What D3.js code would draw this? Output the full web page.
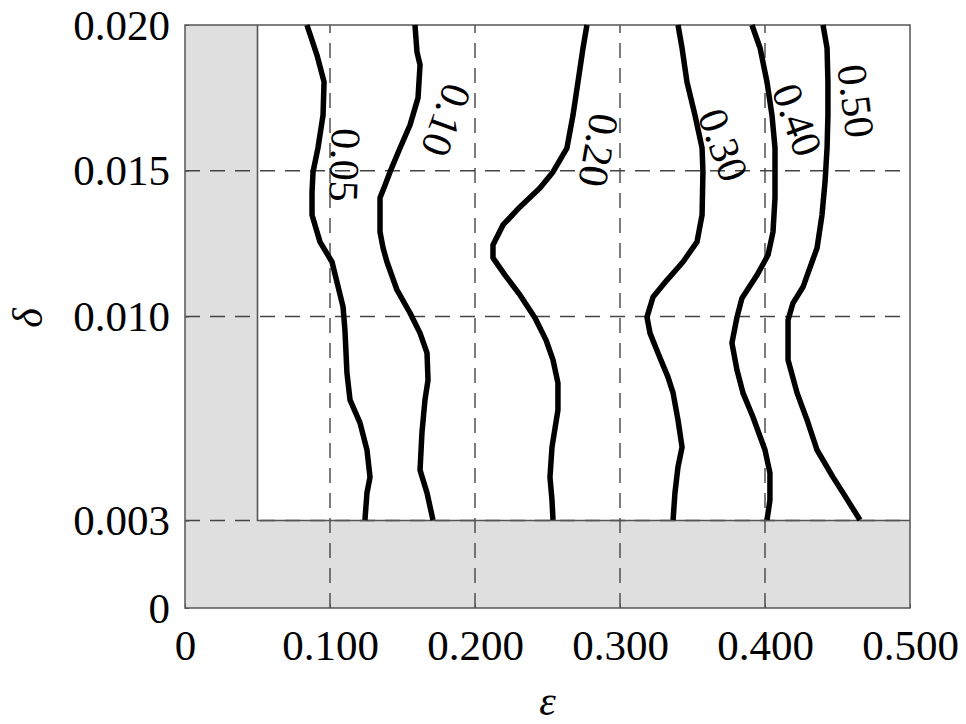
<!DOCTYPE html>
<html>
<head>
<meta charset="utf-8">
<script src="https://cdn.jsdelivr.net/npm/d3@7"></script>
<style>
  body { margin: 0; background: #fff; }
  text { font-family: "Liberation Serif", "Times New Roman", serif; fill: #000; }
</style>
</head>
<body>
<div id="chart"></div>
<script>
// axis ticks
const xTicks = [0, 0.1, 0.2, 0.3, 0.4, 0.5];
const xTickLabels = ["0", "0.100", "0.200", "0.300", "0.400", "0.500"];
const yTicks = [0, 0.003, 0.010, 0.015, 0.020];
const yTickLabels = ["0", "0.003", "0.010", "0.015", "0.020"];

// feasible region limits (shaded outside)
const epsMin = 0.05, deltaMin = 0.003;

// contour levels and lines, [epsilon, delta]
const levels = ["0.05", "0.10", "0.20", "0.30", "0.40", "0.50"];

const c05 = [[0.0841,0.0200],[0.0910,0.01897],[0.0959,0.01805],[0.0952,0.01691],[0.0917,0.01578],
  [0.0883,0.01496],[0.0876,0.01427],[0.0876,0.01348],[0.0931,0.01256],[0.1014,0.01187],
  [0.1090,0.01033],[0.1103,0.00954],[0.1117,0.00806],[0.1138,0.00714],[0.1207,0.00635],
  [0.1255,0.00542],[0.1276,0.00449],[0.1255,0.00395],[0.1241,0.00302]];

const c10 = [[0.1586,0.0200],[0.1600,0.01907],[0.1621,0.01863],[0.1607,0.01750],[0.1552,0.01657],
  [0.1483,0.01578],[0.1414,0.01496],[0.1372,0.01441],[0.1345,0.01407],[0.1345,0.01290],
  [0.1366,0.01235],[0.1393,0.01187],[0.1462,0.01091],[0.1552,0.01012],[0.1621,0.00943],
  [0.1669,0.00875],[0.1676,0.00782],[0.1655,0.00714],[0.1634,0.00600],[0.1621,0.00473],
  [0.1669,0.00395],[0.1710,0.00302]];

const c20 = [[0.2772,0.0200],[0.2745,0.01921],[0.2710,0.01804],[0.2676,0.01691],[0.2634,0.01578],
  [0.2538,0.01496],[0.2448,0.01441],[0.2310,0.01376],[0.2193,0.01314],[0.2124,0.01245],
  [0.2124,0.01201],[0.2207,0.01142],[0.2310,0.01074],[0.2414,0.00995],[0.2490,0.00919],
  [0.2538,0.00851],[0.2572,0.00772],[0.2572,0.00679],[0.2531,0.00552],[0.2517,0.00449],
  [0.2531,0.00370],[0.2538,0.00302]];

const c30 = [[0.3400,0.0200],[0.3428,0.01921],[0.3462,0.01804],[0.3517,0.01691],[0.3566,0.01578],
  [0.3572,0.01496],[0.3566,0.01348],[0.3531,0.01256],[0.3434,0.01187],[0.3324,0.01125],
  [0.3228,0.01067],[0.3186,0.00998],[0.3207,0.00943],[0.3262,0.00875],[0.3331,0.00792],
  [0.3366,0.00738],[0.3400,0.00645],[0.3428,0.00552],[0.3400,0.00484],[0.3379,0.00395],
  [0.3366,0.00302]];

const c40 = [[0.3910,0.0200],[0.3966,0.01921],[0.4014,0.01804],[0.4048,0.01691],[0.4069,0.01578],
  [0.4069,0.01407],[0.4055,0.01290],[0.4021,0.01211],[0.3945,0.01142],[0.3841,0.01063],
  [0.3807,0.00998],[0.3772,0.00909],[0.3807,0.00816],[0.3848,0.00738],[0.3917,0.00655],
  [0.4000,0.00542],[0.4034,0.00463],[0.4034,0.00370],[0.4014,0.00302]];

const c50 = [[0.4400,0.0200],[0.4428,0.01921],[0.4434,0.01804],[0.4434,0.01691],[0.4428,0.01578],
  [0.4414,0.01461],[0.4393,0.01348],[0.4359,0.01235],[0.4324,0.01187],[0.4262,0.01101],
  [0.4193,0.01046],[0.4159,0.00988],[0.4159,0.00851],[0.4221,0.00738],[0.4290,0.00645],
  [0.4359,0.00542],[0.4469,0.00449],[0.4538,0.00395],[0.4655,0.00302]];

const contours = [c05, c10, c20, c30, c40, c50];

// where each level label sits, [epsilon, delta]
const labelAt = [[0.1100,0.01520],[0.1800,0.01674],[0.2850,0.01571],[0.3710,0.01588],[0.4220,0.01674],[0.4625,0.01739]];
const labelAngle = [92, 110, 100, 70, 70, 83];

const margin = {top: 25, right: 56, bottom: 116, left: 185},
    width = 966 - margin.left - margin.right,
    height = 724 - margin.top - margin.bottom;

const x = d3.scaleLinear().domain([0, 0.5]).range([0, width]);
const y = d3.scaleLinear().domain([0, 0.02]).range([height, 0]);

const svg = d3.select("#chart").append("svg")
    .attr("width", 966)
    .attr("height", 724)
    .append("g")
    .attr("transform", "translate(" + margin.left + "," + margin.top + ")");

// shaded area and feasible white region
svg.append("rect")
    .attr("width", width).attr("height", height)
    .attr("fill", "#dfdfdf");
svg.append("rect")
    .attr("x", x(epsMin)).attr("y", y(0.02))
    .attr("width", x(0.5) - x(epsMin))
    .attr("height", y(deltaMin) - y(0.02))
    .attr("fill", "#fff");

// dashed grid
svg.selectAll(".vgrid").data(xTicks.slice(1, -1)).enter()
    .append("line")
    .attr("x1", d => x(d)).attr("x2", d => x(d))
    .attr("y1", y(0)).attr("y2", y(0.02))
    .attr("stroke", "#444").attr("stroke-width", 1.4)
    .attr("stroke-dasharray", "15,10");
svg.selectAll(".hgrid").data(yTicks.slice(1, -1)).enter()
    .append("line")
    .attr("x1", x(0)).attr("x2", x(0.5))
    .attr("y1", d => y(d)).attr("y2", d => y(d))
    .attr("stroke", "#444").attr("stroke-width", 1.4)
    .attr("stroke-dasharray", "15,10");

// boundary of the region
svg.append("path")
    .attr("d", "M" + x(epsMin) + "," + y(0.02) + "V" + y(deltaMin) + "H" + x(0.5))
    .attr("fill", "none").attr("stroke", "#555").attr("stroke-width", 1.6);

svg.append("rect")
    .attr("width", width).attr("height", height)
    .attr("fill", "none").attr("stroke", "#555").attr("stroke-width", 1.5);

// contour lines
const line = d3.line()
    .x(d => x(d[0]))
    .y(d => y(d[1]));

svg.selectAll(".contour").data(contours).enter()
    .append("path")
    .attr("d", line)
    .attr("fill", "none")
    .attr("stroke", "#000")
    .attr("stroke-width", 5.5)
    .attr("stroke-linejoin", "round");

svg.selectAll(".clabel").data(levels).enter()
    .append("text")
    .attr("transform", (d, i) => "translate(" + x(labelAt[i][0]) + "," + y(labelAt[i][1]) + ") rotate(" + labelAngle[i] + ")")
    .attr("text-anchor", "middle")
    .attr("dy", "0.33em")
    .style("font-size", "42px")
    .text(d => d);

// axes
const xAxis = svg.append("g")
    .attr("transform", "translate(0," + height + ")")
    .call(d3.axisBottom(x).tickValues(xTicks).tickFormat((d, i) => xTickLabels[i])
        .tickSizeInner(-4).tickSizeOuter(0));
xAxis.select(".domain").remove();
xAxis.selectAll("line").attr("stroke", "#555");
xAxis.selectAll("text")
    .attr("y", 52).attr("dy", 0)
    .style("font-size", "43px");

const yAxis = svg.append("g")
    .call(d3.axisLeft(y).tickValues(yTicks).tickFormat((d, i) => yTickLabels[i])
        .tickSizeInner(-4).tickSizeOuter(0));
yAxis.select(".domain").remove();
yAxis.selectAll("line").attr("stroke", "#555");
yAxis.selectAll("text")
    .attr("x", -15).attr("dy", "0.33em")
    .style("font-size", "43px");

// axis titles
svg.append("text")
    .attr("transform", "translate(" + (28 - margin.left) + "," + (318 - margin.top) + ") rotate(-90)")
    .attr("text-anchor", "middle")
    .attr("dy", "0.33em")
    .style("font-size", "42px")
    .style("font-style", "italic")
    .text("δ");

svg.append("text")
    .attr("x", width / 2)
    .attr("y", height + 107)
    .attr("text-anchor", "middle")
    .style("font-size", "42px")
    .style("font-style", "italic")
    .text("ε");
</script>
</body>
</html>
